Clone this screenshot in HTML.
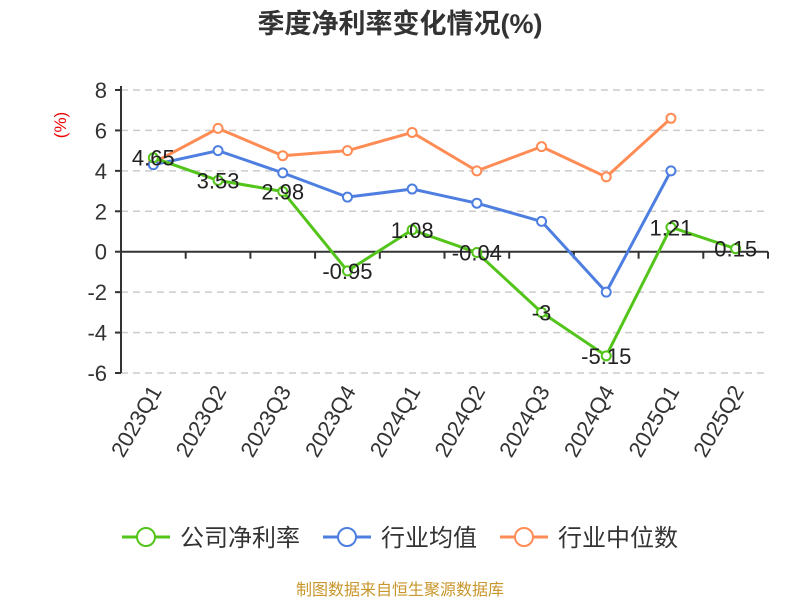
<!DOCTYPE html>
<html><head><meta charset="utf-8"><style>
body{margin:0;background:#fff;}
svg{display:block;font-family:"Liberation Sans","Noto Sans CJK SC",sans-serif;}
</style></head><body>
<svg id="chart" width="800" height="600">
<text x="400" y="33" text-anchor="middle" font-size="27" font-weight="bold" fill="#333">季度净利率变化情况(%)</text>
<text transform="translate(66,125) rotate(-90)" text-anchor="middle" font-size="17" fill="#e00">(%)</text>
<g id="grid"></g><g id="axes"></g><g id="series"></g><g id="labels"></g>
<g>
<g><line x1="122" y1="537" x2="170" y2="537" stroke="#52c41a" stroke-width="3"/><circle cx="146" cy="537" r="9" fill="#fff" stroke="#52c41a" stroke-width="2"/><text x="180" y="546" font-size="24" fill="#333">公司净利率</text></g>
<g><line x1="323" y1="537" x2="371" y2="537" stroke="#4e7fe0" stroke-width="3"/><circle cx="347" cy="537" r="9" fill="#fff" stroke="#4e7fe0" stroke-width="2"/><text x="381" y="546" font-size="24" fill="#333">行业均值</text></g>
<g><line x1="500" y1="537" x2="548" y2="537" stroke="#ff8c55" stroke-width="3"/><circle cx="524" cy="537" r="9" fill="#fff" stroke="#ff8c55" stroke-width="2"/><text x="558" y="546" font-size="24" fill="#333">行业中位数</text></g>
</g>
<text x="400" y="595" text-anchor="middle" font-size="16" fill="#c8962a">制图数据来自恒生聚源数据库</text>
</svg>
<script>
const categories=["2023Q1","2023Q2","2023Q3","2023Q4","2024Q1","2024Q2","2024Q3","2024Q4","2025Q1","2025Q2"];
const companyValues=[4.65,3.53,2.98,-0.95,1.08,-0.04,-3,-5.15,1.21,0.15];
const industryAvg=[4.3,5.0,3.9,2.7,3.1,2.4,1.5,-2.0,4.0,null];
const industryMedian=[4.4,6.1,4.75,5.0,5.9,4.0,5.2,3.7,6.6,null];
const yTicks=[-6,-4,-2,0,2,4,6,8];
const NS="http://www.w3.org/2000/svg";
const x0=121,x1=768,yTop=90,yBot=373,yMin=-6,yMax=8;
const band=(x1-x0)/categories.length;
const xs=i=>x0+band*(i+0.5);
const ys=v=>yBot-(v-yMin)/(yMax-yMin)*(yBot-yTop);
function mk(tag,attrs,parent){const e=document.createElementNS(NS,tag);for(const k in attrs)e.setAttribute(k,attrs[k]);document.getElementById(parent).appendChild(e);return e;}
yTicks.forEach(t=>{
 if(t!==0){const g=mk('line',{x1:x0,x2:x1,y1:ys(t),y2:ys(t),stroke:'#ccc','stroke-width':1.5,'stroke-dasharray':'7,5'},'grid');
 
 }
 const tk=mk('line',{x1:x0-6,x2:x0,y1:ys(t),y2:ys(t),stroke:'#333','stroke-width':2},'axes');
 
 
 const l=mk('text',{x:x0-14,y:ys(t)+8,'text-anchor':'end','font-size':22,fill:'#333'},'axes');l.textContent=t;
 
 
});
let a=mk('line',{x1:x0,x2:x0,y1:yTop-4,y2:yBot,stroke:'#333','stroke-width':2},'axes');


a=mk('line',{x1:x0,x2:x1,y1:ys(0),y2:ys(0),stroke:'#333','stroke-width':2},'axes');


categories.forEach((c,i)=>{
 const tx=x0+band*(i+1);
 const tk=mk('line',{x1:tx,x2:tx,y1:ys(0),y2:ys(0)+7,stroke:'#333','stroke-width':2},'axes');
 
 
 const l=mk('text',{transform:`translate(${xs(i)+9},${yBot+18}) rotate(-60)`,'text-anchor':'end','font-size':22,fill:'#333'},'axes');l.textContent=c;
 
 
});
function series(vals,color,name){
 const pts=vals.map((v,i)=>v==null?null:[xs(i),ys(v)]).filter(p=>p);
 const p=mk('polyline',{points:pts.map(p=>p.join(',')).join(' '),fill:'none',stroke:color,'stroke-width':3},'series');
 
 
 pts.forEach(q=>{const c=mk('circle',{cx:q[0],cy:q[1],r:4.5,fill:'#fff',stroke:color,'stroke-width':2},'series');
 
 });
}
series(industryMedian,'#ff8c55','industry-median');
series(industryAvg,'#4e7fe0','industry-avg');
series(companyValues,'#52c41a','company');
companyValues.forEach((v,i)=>{
 const l=mk('text',{x:xs(i),y:ys(v)+8,'text-anchor':'middle','font-size':22,fill:'#222'},'labels');l.textContent=v;
 
 
});
</script>
</body></html>
